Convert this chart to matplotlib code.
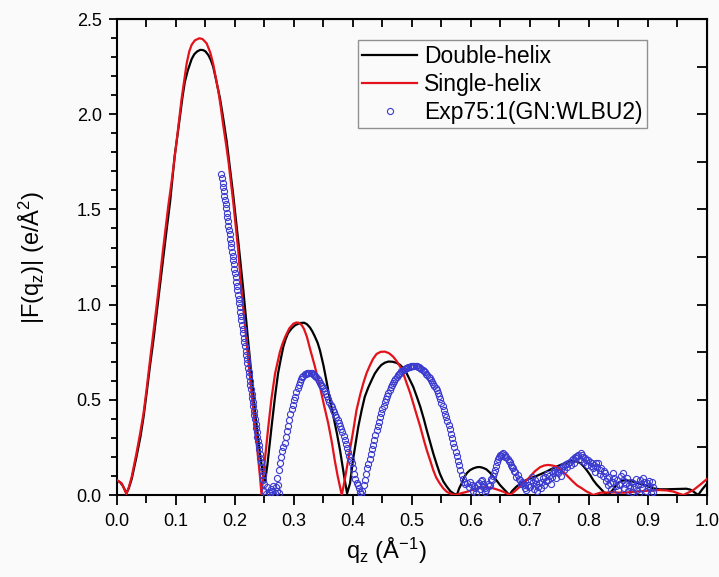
import matplotlib
matplotlib.use("Agg")
import matplotlib.pyplot as plt
from matplotlib.ticker import MultipleLocator, FormatStrFormatter

plt.rcParams['font.family'] = ['Liberation Sans', 'DejaVu Sans']
plt.rcParams['mathtext.default'] = 'regular'

# --- model curves ---
q_double = [0, 0.005, 0.010, 0.016, 0.020, 0.025, 0.033, 0.040, 0.045, 0.050, 0.056, 0.062,
            0.067, 0.072, 0.078, 0.084, 0.090, 0.098, 0.103, 0.107, 0.111, 0.115, 0.120,
            0.1266, 0.131, 0.136, 0.141, 0.146, 0.150, 0.155, 0.159, 0.163, 0.168, 0.1746,
            0.180, 0.186, 0.191, 0.197, 0.206, 0.214, 0.2226, 0.234, 0.243, 0.248, 0.251,
            0.255, 0.262, 0.268, 0.273, 0.278, 0.282, 0.286, 0.290, 0.296, 0.302, 0.310,
            0.317, 0.322, 0.327, 0.331, 0.335, 0.340, 0.344, 0.350, 0.355, 0.361, 0.367,
            0.373, 0.378, 0.386, 0.390, 0.395, 0.400, 0.405, 0.409, 0.415, 0.420, 0.426,
            0.4317, 0.437, 0.443, 0.448, 0.454, 0.460, 0.467, 0.474, 0.480, 0.486, 0.491,
            0.496, 0.502, 0.508, 0.514, 0.520, 0.525, 0.531, 0.536, 0.542, 0.547, 0.553,
            0.559, 0.565, 0.570, 0.576, 0.580, 0.584, 0.588, 0.593, 0.598, 0.604, 0.610,
            0.615, 0.620, 0.626, 0.632, 0.638, 0.644, 0.649, 0.655, 0.660, 0.665, 0.670,
            0.677, 0.685, 0.694, 0.702, 0.711, 0.720, 0.728, 0.736, 0.745, 0.754, 0.762,
            0.768, 0.773, 0.779, 0.786, 0.791, 0.796, 0.802, 0.807, 0.813, 0.819, 0.827,
            0.833, 0.837, 0.841, 0.846, 0.850, 0.856, 0.862, 0.868, 0.875, 0.883, 0.892,
            0.900, 0.909, 0.920, 0.930, 0.950, 0.965, 0.972, 0.977, 0.985, 0.992, 1.0]
f_double = [0.075, 0.068, 0.048, 0.010, 0.035, 0.085, 0.20, 0.31, 0.41, 0.53, 0.68, 0.82,
            0.95, 1.08, 1.24, 1.39, 1.54, 1.786, 1.90, 1.996, 2.09, 2.17, 2.23,
            2.29, 2.315, 2.33, 2.338, 2.337, 2.33, 2.31, 2.285, 2.25, 2.18, 2.083,
            1.98, 1.856, 1.73, 1.576, 1.32, 1.08, 0.80, 0.44, 0.20, 0.10, 0.07,
            0.16, 0.359, 0.52, 0.639, 0.72, 0.78, 0.82, 0.85, 0.875, 0.892, 0.903,
            0.905, 0.897, 0.88, 0.86, 0.835, 0.80, 0.76, 0.68, 0.60, 0.50, 0.41,
            0.32, 0.236, 0.079, 0.009, 0.061, 0.184, 0.28, 0.359, 0.45, 0.516, 0.565,
            0.604, 0.638, 0.665, 0.683, 0.695, 0.701, 0.70, 0.694, 0.683, 0.663, 0.639,
            0.607, 0.569, 0.518, 0.464, 0.40, 0.341, 0.275, 0.219, 0.16, 0.114, 0.072,
            0.044, 0.02, 0.009, 0.0, 0.035, 0.06, 0.09, 0.115, 0.13, 0.14, 0.146,
            0.147, 0.143, 0.135, 0.118, 0.096, 0.074, 0.053, 0.033, 0.017, 0.0, 0.022,
            0.044, 0.062, 0.079, 0.09, 0.10, 0.112, 0.123, 0.136, 0.149, 0.161, 0.17,
            0.177, 0.18, 0.176, 0.166, 0.15, 0.131, 0.105, 0.079, 0.055, 0.035, 0.009,
            0.0, 0.015, 0.03, 0.05, 0.065, 0.075, 0.078, 0.075, 0.07, 0.062, 0.055,
            0.045, 0.035, 0.03, 0.03, 0.032, 0.033, 0.028, 0.018, 0.0, 0.03, 0.06]

q_single = [0, 0.008, 0.016, 0.020, 0.025, 0.033, 0.039, 0.045, 0.050, 0.056, 0.062, 0.067,
            0.072, 0.078, 0.087, 0.0926, 0.101, 0.1096, 0.114, 0.118, 0.1225, 0.1266, 0.132,
            0.1395, 0.145, 0.152, 0.158, 0.163, 0.167, 0.172, 0.176, 0.180, 0.185, 0.189,
            0.197, 0.205, 0.211, 0.2226, 0.234, 0.2424, 0.245, 0.2505, 0.2565, 0.262, 0.268,
            0.276, 0.280, 0.285, 0.292, 0.299, 0.304, 0.308, 0.313, 0.317, 0.322, 0.327,
            0.335, 0.344, 0.351, 0.358, 0.364, 0.369, 0.374, 0.378, 0.381, 0.386, 0.390,
            0.395, 0.400, 0.406, 0.412, 0.4175, 0.423, 0.429, 0.434, 0.440, 0.447, 0.454,
            0.461, 0.468, 0.474, 0.480, 0.486, 0.491, 0.497, 0.502, 0.508, 0.514, 0.520,
            0.525, 0.531, 0.536, 0.541, 0.547, 0.553, 0.559, 0.566, 0.573, 0.582, 0.593,
            0.607, 0.621, 0.630, 0.638, 0.647, 0.655, 0.666, 0.675, 0.683, 0.692, 0.700,
            0.708, 0.717, 0.724, 0.731, 0.738, 0.745, 0.752, 0.759, 0.766, 0.773, 0.780,
            0.788, 0.795, 0.802, 0.807, 0.819, 0.836, 0.858, 0.881, 0.903, 0.920, 0.932,
            0.943, 0.952, 0.960, 0.968, 0.977, 0.988, 1.0]
f_single = [0.079, 0.061, 0.005, 0.04, 0.096, 0.219, 0.32, 0.429, 0.55, 0.709, 0.86, 0.989,
            1.12, 1.287, 1.52, 1.646, 1.856, 2.083, 2.18, 2.265, 2.33, 2.365, 2.388,
            2.399, 2.395, 2.372, 2.325, 2.265, 2.20, 2.118, 2.035, 1.943, 1.84, 1.75,
            1.54, 1.30, 1.08, 0.709, 0.359, 0.096, 0.0, 0.18, 0.359, 0.51, 0.639,
            0.75, 0.79, 0.83, 0.875, 0.90, 0.906, 0.905, 0.893, 0.872, 0.83, 0.77,
            0.68, 0.569, 0.47, 0.377, 0.28, 0.184, 0.10, 0.044, 0.0, 0.079, 0.15,
            0.236, 0.33, 0.446, 0.525, 0.587, 0.64, 0.683, 0.715, 0.741, 0.752, 0.753,
            0.745, 0.727, 0.703, 0.674, 0.632, 0.587, 0.535, 0.482, 0.42, 0.359, 0.29,
            0.236, 0.18, 0.131, 0.092, 0.061, 0.035, 0.017, 0.006, 0.0, 0.008, 0.017,
            0.031, 0.04, 0.039, 0.035, 0.026, 0.017, 0.0, 0.022, 0.044, 0.07, 0.096,
            0.124, 0.146, 0.155, 0.158, 0.155, 0.149, 0.133, 0.114, 0.092, 0.07, 0.05,
            0.035, 0.02, 0.009, 0.0, 0.012, 0.014, 0.012, 0.018, 0.023, 0.026, 0.024,
            0.018, 0.008, 0.0, 0.012, 0.026, 0.053, 0.084]

# --- experimental data, read piecewise ---
q_exp_drop = [0.177, 0.178, 0.179, 0.180, 0.181, 0.182, 0.183, 0.184, 0.185, 0.186, 0.187,
              0.188, 0.189, 0.190, 0.191, 0.192, 0.193, 0.194, 0.195, 0.196, 0.197, 0.198,
              0.199, 0.200, 0.201, 0.202, 0.203, 0.204, 0.205, 0.206, 0.207, 0.208, 0.209,
              0.210, 0.211, 0.212, 0.213, 0.214, 0.215, 0.216, 0.217, 0.218, 0.219, 0.220,
              0.221, 0.222, 0.223, 0.224, 0.225, 0.226, 0.227, 0.228, 0.229, 0.230, 0.231,
              0.232, 0.233, 0.234, 0.235, 0.236, 0.237, 0.238, 0.239, 0.240, 0.241, 0.242,
              0.243, 0.244, 0.245, 0.246, 0.247, 0.248, 0.249]
f_exp_drop = [1.686, 1.663, 1.641, 1.618, 1.596, 1.573, 1.550, 1.528, 1.505, 1.483, 1.460,
              1.437, 1.415, 1.392, 1.370, 1.347, 1.324, 1.302, 1.279, 1.257, 1.234, 1.211,
              1.189, 1.166, 1.144, 1.121, 1.098, 1.076, 1.053, 1.031, 1.008, 0.985, 0.963,
              0.940, 0.918, 0.895, 0.872, 0.850, 0.827, 0.805, 0.782, 0.759, 0.737, 0.714,
              0.692, 0.669, 0.646, 0.624, 0.601, 0.579, 0.556, 0.533, 0.511, 0.488, 0.466,
              0.443, 0.420, 0.398, 0.375, 0.353, 0.330, 0.307, 0.285, 0.262, 0.240, 0.217,
              0.194, 0.172, 0.149, 0.127, 0.104, 0.081, 0.059]

q_exp_lobe2 = [0.250, 0.253, 0.255, 0.257, 0.259, 0.261, 0.263, 0.265, 0.267, 0.269, 0.271,
               0.273, 0.274, 0.272, 0.274, 0.276, 0.278, 0.280, 0.282, 0.284, 0.286, 0.288,
               0.290, 0.292, 0.294, 0.296, 0.298, 0.300, 0.302, 0.304, 0.306, 0.308, 0.310,
               0.312, 0.314, 0.316, 0.318, 0.320, 0.322, 0.324, 0.326, 0.328, 0.330, 0.332,
               0.334, 0.336, 0.338, 0.340, 0.342, 0.344, 0.346, 0.348, 0.350, 0.352, 0.354,
               0.356, 0.358, 0.360, 0.362, 0.364, 0.366, 0.368, 0.370, 0.372, 0.374, 0.376,
               0.378, 0.380, 0.382, 0.384, 0.386, 0.388, 0.390, 0.392, 0.394, 0.396, 0.398,
               0.400, 0.402, 0.404, 0.406, 0.408, 0.410, 0.412, 0.414]
f_exp_lobe2 = [0.020, 0.005, 0.040, 0.015, 0.008, 0.030, 0.020, 0.045, 0.012, 0.040, 0.020,
               0.050, 0.012, 0.090, 0.130, 0.166, 0.200, 0.230, 0.250, 0.275, 0.305, 0.335,
               0.365, 0.395, 0.425, 0.450, 0.475, 0.500, 0.516, 0.540, 0.560, 0.578, 0.595,
               0.607, 0.618, 0.627, 0.633, 0.638, 0.640, 0.643, 0.643, 0.642, 0.640, 0.636,
               0.631, 0.626, 0.620, 0.610, 0.600, 0.590, 0.580, 0.570, 0.560, 0.545, 0.532,
               0.518, 0.503, 0.488, 0.474, 0.460, 0.447, 0.435, 0.422, 0.410, 0.394, 0.378,
               0.362, 0.347, 0.330, 0.310, 0.290, 0.268, 0.245, 0.225, 0.205, 0.185, 0.166,
               0.140, 0.110, 0.085, 0.065, 0.050, 0.035, 0.018, 0.006]

q_exp_lobe3 = [0.416, 0.418, 0.420, 0.422, 0.424, 0.426, 0.428, 0.430, 0.432, 0.434, 0.436,
               0.438, 0.440, 0.442, 0.444, 0.446, 0.448, 0.450, 0.452, 0.454, 0.456, 0.458,
               0.460, 0.462, 0.464, 0.466, 0.468, 0.470, 0.472, 0.474, 0.476, 0.478, 0.480,
               0.482, 0.484, 0.486, 0.488, 0.490, 0.492, 0.494, 0.496, 0.498, 0.500, 0.502,
               0.504, 0.506, 0.508, 0.510, 0.512, 0.514, 0.516, 0.518, 0.520, 0.522, 0.524,
               0.526, 0.528, 0.530, 0.532, 0.534, 0.536, 0.538, 0.540, 0.542, 0.544, 0.546,
               0.548, 0.550, 0.552, 0.554, 0.556, 0.558, 0.560, 0.562, 0.564, 0.566, 0.568,
               0.570, 0.572, 0.574, 0.576, 0.578, 0.580, 0.582, 0.584, 0.586, 0.588, 0.590]
f_exp_lobe3 = [0.020, 0.050, 0.080, 0.110, 0.140, 0.165, 0.190, 0.215, 0.240, 0.265, 0.290,
               0.315, 0.340, 0.362, 0.385, 0.408, 0.430, 0.452, 0.470, 0.488, 0.505, 0.520,
               0.535, 0.550, 0.565, 0.578, 0.590, 0.600, 0.610, 0.620, 0.628, 0.636, 0.643,
               0.649, 0.654, 0.658, 0.662, 0.666, 0.669, 0.672, 0.674, 0.676, 0.677, 0.678,
               0.678, 0.677, 0.676, 0.674, 0.671, 0.668, 0.664, 0.659, 0.653, 0.646, 0.638,
               0.630, 0.622, 0.613, 0.604, 0.594, 0.584, 0.573, 0.561, 0.549, 0.535, 0.519,
               0.502, 0.485, 0.467, 0.448, 0.428, 0.408, 0.388, 0.367, 0.345, 0.322, 0.299,
               0.275, 0.252, 0.228, 0.204, 0.180, 0.155, 0.130, 0.105, 0.085, 0.070, 0.058]

q_exp_tail = [0.593, 0.596, 0.598, 0.601, 0.603, 0.605, 0.607, 0.609, 0.611, 0.613, 0.615,
              0.617, 0.618, 0.620, 0.621, 0.623, 0.624, 0.626, 0.628, 0.630, 0.632, 0.634,
              0.635, 0.637, 0.639, 0.641, 0.643, 0.644, 0.646, 0.648, 0.649, 0.651, 0.653,
              0.655, 0.657, 0.658, 0.660, 0.662, 0.664, 0.666, 0.668, 0.669, 0.671, 0.673,
              0.675, 0.677, 0.679, 0.681, 0.683, 0.685, 0.687, 0.689, 0.691, 0.692, 0.694,
              0.696, 0.698, 0.700, 0.702, 0.703, 0.705, 0.706, 0.708, 0.710, 0.712, 0.714,
              0.716, 0.718, 0.720, 0.722, 0.723, 0.725, 0.727, 0.729, 0.731, 0.733, 0.735,
              0.737, 0.739, 0.741, 0.742, 0.744, 0.746, 0.748, 0.750, 0.752, 0.754, 0.756,
              0.758, 0.759, 0.761, 0.763, 0.765, 0.767, 0.769, 0.771, 0.773, 0.775, 0.776,
              0.778, 0.780, 0.782, 0.784, 0.786, 0.788, 0.790, 0.792, 0.793, 0.795, 0.797,
              0.799, 0.801, 0.803, 0.805, 0.807, 0.808, 0.810, 0.812, 0.814, 0.816, 0.818,
              0.819, 0.821, 0.823, 0.825, 0.827, 0.829, 0.830, 0.832, 0.834, 0.836, 0.838,
              0.840, 0.841, 0.843, 0.845, 0.847, 0.849, 0.851, 0.853, 0.855, 0.857, 0.858,
              0.860, 0.862, 0.864, 0.866, 0.868, 0.869, 0.871, 0.873, 0.875, 0.877, 0.879,
              0.881, 0.883, 0.885, 0.886, 0.888, 0.890, 0.892, 0.894, 0.896, 0.898, 0.900,
              0.902, 0.903, 0.905, 0.906, 0.908, 0.909]
f_exp_tail = [0.061, 0.040, 0.070, 0.053, 0.020, 0.045, 0.035, 0.012, 0.050, 0.061, 0.030,
              0.075, 0.079, 0.060, 0.044, 0.015, 0.035, 0.026, 0.060, 0.045, 0.053, 0.085,
              0.079, 0.100, 0.115, 0.131, 0.150, 0.175, 0.190, 0.200, 0.210, 0.205, 0.215,
              0.219, 0.210, 0.200, 0.201, 0.190, 0.180, 0.175, 0.160, 0.149, 0.140, 0.125,
              0.123, 0.096, 0.105, 0.085, 0.079, 0.060, 0.070, 0.061, 0.035, 0.050, 0.026,
              0.055, 0.040, 0.044, 0.080, 0.096, 0.070, 0.030, 0.079, 0.060, 0.020, 0.044,
              0.065, 0.035, 0.070, 0.090, 0.050, 0.096, 0.075, 0.110, 0.079, 0.100, 0.060,
              0.096, 0.115, 0.130, 0.123, 0.090, 0.120, 0.114, 0.135, 0.100, 0.140, 0.150,
              0.130, 0.158, 0.165, 0.145, 0.166, 0.175, 0.160, 0.184, 0.190, 0.170, 0.201,
              0.195, 0.205, 0.210, 0.185, 0.220, 0.210, 0.200, 0.175, 0.193, 0.185, 0.160,
              0.184, 0.175, 0.150, 0.166, 0.140, 0.158, 0.120, 0.166, 0.145, 0.166, 0.130,
              0.110, 0.140, 0.100, 0.125, 0.114, 0.075, 0.088, 0.050, 0.095, 0.061, 0.030,
              0.070, 0.114, 0.090, 0.045, 0.079, 0.025, 0.060, 0.053, 0.100, 0.114, 0.080,
              0.035, 0.060, 0.088, 0.020, 0.050, 0.044, 0.070, 0.015, 0.061, 0.040, 0.085,
              0.026, 0.050, 0.012, 0.079, 0.060, 0.035, 0.088, 0.070, 0.020, 0.061, 0.045,
              0.075, 0.035, 0.010, 0.070, 0.040, 0.018]

q_exp = q_exp_drop + q_exp_lobe2 + q_exp_lobe3 + q_exp_tail
f_exp = f_exp_drop + f_exp_lobe2 + f_exp_lobe3 + f_exp_tail

fig = plt.figure(figsize=(7.19, 5.77), dpi=100, facecolor='#fafafa')
ax = fig.add_axes([0.1627, 0.1421, 0.8206, 0.8249])
ax.set_facecolor('#fafafa')

ax.plot(q_double, f_double, color='black', lw=1.6, label='Double-helix', zorder=2)
ax.plot(q_single, f_single, color='#e3121b', lw=1.6, label='Single-helix', zorder=3)
ax.plot(q_exp, f_exp, ls='none', marker='o', ms=4.4, mfc='none', mec='#3b3bd0',
        mew=0.8, label='Exp75:1(GN:WLBU2)', zorder=4)

ax.set_xlim(0, 1.0)
ax.set_ylim(0, 2.5)

ax.xaxis.set_major_locator(MultipleLocator(0.1))
ax.xaxis.set_minor_locator(MultipleLocator(0.05))
ax.yaxis.set_major_locator(MultipleLocator(0.5))
ax.yaxis.set_minor_locator(MultipleLocator(0.1))
ax.tick_params(which='both', direction='out', width=1.3, labelsize=13)
ax.tick_params(axis='x', which='major', length=7, pad=6)
ax.tick_params(axis='x', which='minor', length=6)
ax.tick_params(axis='y', which='major', length=6, pad=5)
ax.tick_params(axis='y', which='minor', length=4)
ax.xaxis.set_major_formatter(FormatStrFormatter('%.1f'))
ax.yaxis.set_major_formatter(FormatStrFormatter('%.1f'))

for s in ax.spines.values():
    s.set_linewidth(1.5)

# top and right axes: inward ticks, no labels
top = ax.secondary_xaxis('top')
top.xaxis.set_major_locator(MultipleLocator(0.05))
top.tick_params(direction='in', length=6, width=1.3, labeltop=False)
right = ax.secondary_yaxis('right')
right.yaxis.set_major_locator(MultipleLocator(0.25))
right.tick_params(direction='in', length=7, width=1.3, labelright=False)

ax.set_xlabel(r'q$_z$ (Å$^{-1}$)', fontsize=17)
ax.set_ylabel(r'|F(q$_z$)| (e/Å$^2$)', fontsize=17)
ax.xaxis.set_label_coords(0.456, -0.085)
ax.yaxis.set_label_coords(-0.119, 0.50)

leg = ax.legend(loc='upper left', bbox_to_anchor=(0.408, 0.956), borderaxespad=0,
                fontsize=16.5, handlelength=2.4, handletextpad=0.3, labelspacing=0.22,
                borderpad=0.2, fancybox=False, frameon=True, markerscale=1.0)
leg.get_frame().set_edgecolor('#777777')
leg.get_frame().set_linewidth(1.0)
leg.get_frame().set_facecolor('#fafafa')

fig.savefig('out.png', dpi=100, facecolor=fig.get_facecolor())
